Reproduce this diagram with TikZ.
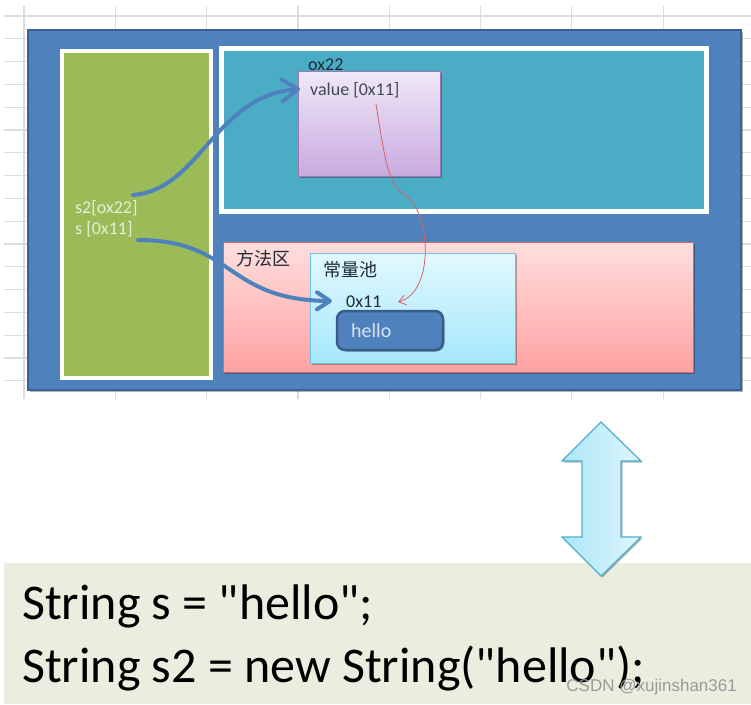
\documentclass[tikz,border=0pt]{standalone}
\usepackage{fontspec}
\setmainfont{Carlito}[Ligatures=TeXOff]
\newfontfamily\cjk{Noto Sans CJK SC}
\newfontfamily\wmfont{Liberation Sans}
\usetikzlibrary{arrows.meta,shadows}
\definecolor{gridc}{HTML}{DCDCDC}
\definecolor{outerblue}{HTML}{4F81BD}
\definecolor{outerborder}{HTML}{3A6395}
\definecolor{stackgreen}{HTML}{9BBB59}
\definecolor{heapteal}{HTML}{4BACC6}
\definecolor{purptop}{HTML}{F0E8F8}
\definecolor{purpbot}{HTML}{C8AADF}
\definecolor{purpborder}{HTML}{9C7BB4}
\definecolor{pinktop}{HTML}{FFDEDE}
\definecolor{pinkbot}{HTML}{FFA2A2}
\definecolor{pinkborder}{HTML}{D86A6A}
\definecolor{cyantop}{HTML}{E2F8FE}
\definecolor{cyanbot}{HTML}{A4E8FA}
\definecolor{cyanborder}{HTML}{72C4DB}
\definecolor{helloborder}{HTML}{385D8A}
\definecolor{hellotext}{HTML}{D8E2F0}
\definecolor{redline}{HTML}{D26464}
\definecolor{panelc}{HTML}{EBEEDF}
\definecolor{arrleft}{HTML}{ADE6F8}
\definecolor{arrright}{HTML}{DFF6FD}
\definecolor{arrborder}{HTML}{4FAFCB}
\definecolor{darktext}{HTML}{1E2A36}
\definecolor{stacktext}{HTML}{E6EED6}
\definecolor{wmgray}{HTML}{9A9A9A}
\tikzset{
  gridline/.style={draw=gridc, line width=1.2pt},
  boxnode/.style={rectangle, anchor=north west, inner sep=0pt, outer sep=0pt},
  softshadow/.style={drop shadow={shadow xshift=1.5pt, shadow yshift=-1.5pt, opacity=0.3, fill=black}},
  lbl/.style={inner sep=0pt, anchor=base west, font=\fontsize{18}{20}\selectfont},
  cjklbl/.style={inner sep=0pt, anchor=west, font=\cjk\fontsize{18}{20}\selectfont, text=darktext},
  bluearrow/.style={draw=outerblue, line width=4pt, line cap=round},
  redarrow/.style={draw=redline, line width=0.8pt, -{Straight Barb[length=7pt,width=10pt]}},
  codeline/.style={inner sep=0pt, anchor=base west, font=\fontsize{50}{60}\selectfont, text=black}
}
\begin{document}
\begin{tikzpicture}[x=1pt,y=-1pt]
\useasboundingbox (0,0) rectangle (751,704);
\fill[white] (0,0) rectangle (751,704);
% spreadsheet grid
\foreach \k in {0,...,16} \draw[gridline] (4,{16+22.8*\k}) -- (751,{16+22.8*\k});
\foreach \k in {0,...,7} \draw[gridline] ({24+91.3*\k},6) -- ({24+91.3*\k},399);
% memory frame
\node[boxnode, draw=outerborder, fill=outerblue, line width=2pt, minimum width=713, minimum height=360, softshadow] (jvm) at (28,30) {};
% stack
\node[boxnode, draw=white, fill=stackgreen, line width=4pt, minimum width=149, minimum height=327, softshadow] (stack) at (62,51) {};
% heap
\node[boxnode, draw=white, fill=heapteal, line width=4.5pt, minimum width=485, minimum height=163, softshadow] (heap) at (221.5,48.5) {};
% string object
\node[boxnode, draw=purpborder, top color=purptop, bottom color=purpbot, line width=1pt, minimum width=142, minimum height=105, softshadow] (obj) at (298,71) {};
% method area
\node[boxnode, draw=pinkborder, top color=pinktop, bottom color=pinkbot, line width=1pt, minimum width=470, minimum height=130, softshadow] (method) at (223,242) {};
% constant pool
\node[boxnode, draw=cyanborder, top color=cyantop, bottom color=cyanbot, line width=1pt, minimum width=205, minimum height=110, softshadow] (pool) at (310,253) {};
% hello
\node[boxnode, draw=helloborder, fill=outerblue, line width=2.5pt, rounded corners=8pt, minimum width=106, minimum height=39, softshadow] (hellobox) at (337,311) {};
% labels
\node[lbl, text=darktext] (oxlbl) at (308,70) {ox22};
\node[lbl, text=darktext!85] (vallbl) at (310,95) {value [0x11]};
\node[lbl, text=stacktext] (s2lbl) at (75,213) {s2[ox22]};
\node[lbl, text=stacktext] (slbl) at (75,234) {s [0x11]};
\node[cjklbl] (fflbl) at (236,259) {方法区};
\node[cjklbl] (cllbl) at (323,270) {常量池};
\node[lbl, text=darktext] (addrlbl) at (346,307) {0x11};
\node[lbl, text=hellotext, font=\fontsize{20}{22}\selectfont] (hellolbl) at (351,337) {hello};
% connectors
\coordinate (a1s) at (133,195);
\coordinate (a1e) at (300,89);
\coordinate (a2s) at (138,240);
\coordinate (a2e) at (332,301);
\coordinate (rs) at (376,104);
\coordinate (rm) at (405,195);
\coordinate (re) at (398,302);
\draw[bluearrow, -{Straight Barb[length=16pt,width=22pt,round]}] (a1s) .. controls (200,190) and (215,95) .. (a1e);
\draw[bluearrow, -{Straight Barb[length=13pt,width=17pt,round]}] (a2s) .. controls (235,240) and (225,300) .. (a2e);
\draw[redarrow] (rs) .. controls (385,160) and (388,185) .. (rm) .. controls (430,210) and (436,292) .. (re);
% bottom code panel
\fill[panelc] (4,563) rectangle (751,704);
\node[codeline] (code1) at (22,619) {String s = "hello";};
\node[codeline] (code2) at (22,682) {String s2 = new String("hello");};
% double arrow
\draw[draw=arrborder, line width=1.2pt, left color=arrleft, right color=arrright, line join=miter, softshadow]
  (601,422) -- (641,461) -- (621,461) -- (621,537) -- (641,537) -- (601,576) -- (562,537) -- (582,537) -- (582,461) -- (562,461) -- cycle;
% watermark
\node[inner sep=0pt, anchor=base east, font=\wmfont\fontsize{17}{18}\selectfont, text=wmgray] (wm) at (737,691) {CSDN @xujinshan361};
\end{tikzpicture}
\end{document}
